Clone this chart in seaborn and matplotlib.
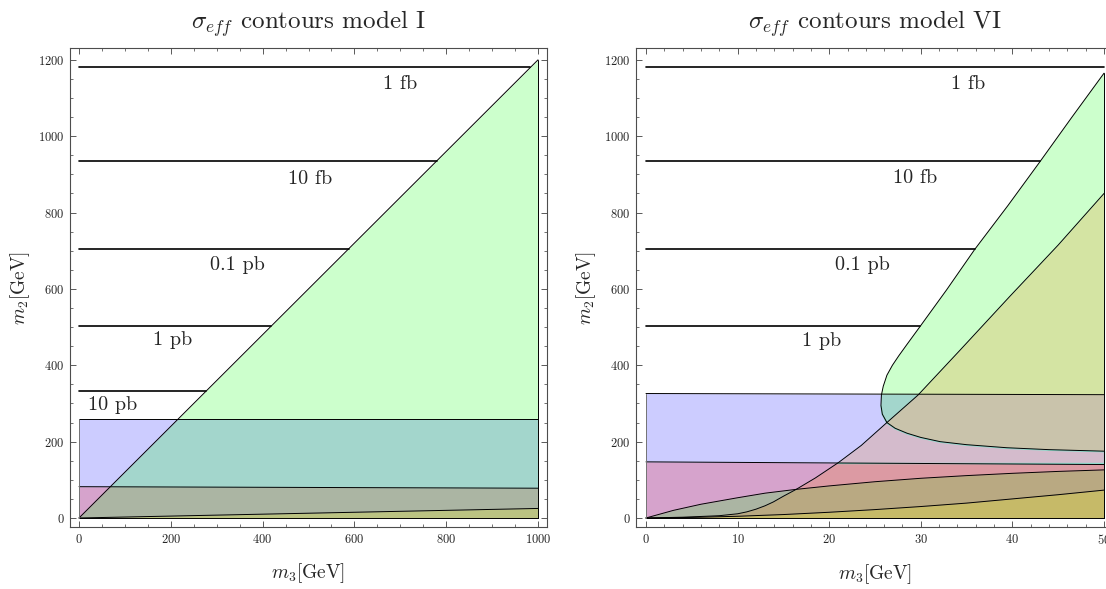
import numpy as np
import matplotlib.pyplot as plt
import seaborn as sns
from matplotlib.ticker import MultipleLocator

# ---- model I (m3 in GeV, m2 in GeV) ----
m3_I = [0, 1000]
blue_top_I = [260, 260]
red_top_I = [82, 78]
diag_I = [0, 1200]
yellow_top_I = [0, 25]

# ---- model VI ----
m3_VI = [0, 50]
blue_top_VI = [326, 323]
red_top_VI = [147, 140]
c_upper_m3 = [25.65, 25.7, 25.9, 26.3, 26.9, 27.6, 28.5, 29.9, 32.8, 35.9, 39.5, 43.0, 46.5, 50.0]
c_upper_m2 = [295, 322, 345, 374, 400, 425, 455, 501, 597, 704, 818, 933, 1050, 1165]
c_lower_m3 = [25.65, 25.8, 26.3, 27.2, 28.5, 30.0, 32.1, 35.0, 39.4, 44.0, 50.0]
c_lower_m2 = [295, 272, 250, 235, 222, 211, 200, 192, 184, 179, 175]
curve2_m3 = [0, 4, 8, 10, 11, 12, 13, 13.9, 15, 16.4, 18.5, 21, 23.5, 26.3, 29.7, 34.3, 39.7, 45, 50]
curve2_m2 = [0, 2, 6, 11, 16, 23, 32, 42, 57, 75, 105, 145, 190, 250, 322, 440, 580, 715, 850]
curve3_m3 = [0, 1.5, 3, 6, 10, 13, 16.4, 20, 25, 30, 35, 40, 45, 50]
curve3_m2 = [0, 10, 20, 36, 53, 65, 75, 84, 95, 104, 111, 117, 122, 126]
curve4_m3 = [0, 5, 10, 15, 20, 25, 30, 35, 40, 45, 50]
curve4_m2 = [0, 1.5, 4.5, 9, 15, 22, 30, 39, 50, 61, 73]
strip_bottom_VI = 143

# contour levels of sigma_eff
level_m2 = [1180, 935, 705, 503, 333]
level_names = ['1 fb', '10 fb', '0.1 pb', '1 pb', '10 pb']
label_m3_I = [699, 503, 346, 203, 74]
label_m2_I = [1137, 888, 663, 466, 296]
label_m3_VI = [35.2, 29.4, 23.6, 19.2]
label_m2_VI = [1137, 891, 663, 464]

BLUE = (0, 0, 1)
RED = (1, 0, 0)
GREEN = (0, 1, 0)
ORANGE = (0.96, 0.48, 0)
YELLOW = (1, 1, 0)
BEIGE = (1.0, 0.77, 0.75)
A = 0.2

sns.set_theme(style="ticks")
plt.rcParams['font.family'] = 'serif'
plt.rcParams['font.serif'] = ['cmr10']
plt.rcParams['mathtext.fontset'] = 'cm'
plt.rcParams['axes.formatter.use_mathtext'] = True

fig = plt.figure(figsize=(11.06, 5.89), dpi=100)
ax1 = fig.add_axes([70 / 1106, 62 / 589, 477 / 1106, 479 / 589])
ax2 = fig.add_axes([636 / 1106, 62 / 589, 478 / 1106, 479 / 589])


def bline(ax, x, y, lw=0.7, color='black'):
    sns.lineplot(x=x, y=y, ax=ax, color=color, lw=lw, sort=False, estimator=None)


# ---------- left panel ----------
ax = ax1
ax.fill_between(m3_I, blue_top_I, 0, color=BLUE, alpha=A, lw=0)
ax.fill_between(m3_I, red_top_I, 0, color=RED, alpha=A, lw=0)
ax.fill_between(m3_I, diag_I, 0, color=GREEN, alpha=A, lw=0)
ax.fill_between(m3_I, yellow_top_I, 0, color=YELLOW, alpha=A, lw=0)
bline(ax, m3_I, blue_top_I)
bline(ax, m3_I, red_top_I)
bline(ax, m3_I, diag_I)
bline(ax, m3_I, yellow_top_I)
bline(ax, m3_I, [0, 0])
bline(ax, [m3_I[1], m3_I[1]], [0, diag_I[1]])
bline(ax, [0, 0], [0, blue_top_I[0]], color='0.45')
for lev, name, lx, ly in zip(level_m2, level_names, label_m3_I, label_m2_I):
    x_end = np.interp(lev, diag_I, m3_I)
    bline(ax, [0, x_end], [lev, lev], lw=1.2)
    ax.text(lx, ly, name, ha='center', va='center', fontsize=14.5)
ax.set_xlim(-19.6, 1019.6)
ax.set_ylim(-23.6, 1231)
ax.xaxis.set_major_locator(MultipleLocator(200))
ax.xaxis.set_minor_locator(MultipleLocator(50))
ax.yaxis.set_major_locator(MultipleLocator(200))
ax.yaxis.set_minor_locator(MultipleLocator(50))
ax.set_title(r'$\sigma_{eff}$ contours model I', fontsize=18, pad=14)

# ---------- right panel ----------
ax = ax2
ax.fill_between(m3_VI, blue_top_VI, 0, color=BLUE, alpha=A, lw=0)
ax.fill_between(m3_VI, red_top_VI, 0, color=RED, alpha=A, lw=0)
cx = c_upper_m3[::-1] + c_lower_m3[1:]
cy = c_upper_m2[::-1] + c_lower_m2[1:]
ax.fill(cx, cy, color=GREEN, alpha=A, lw=0)
ax.fill_between(curve3_m3, curve3_m2, 0, color=GREEN, alpha=A, lw=0)
ax.fill_between(curve2_m3, curve2_m2, 0, color=ORANGE, alpha=A, lw=0)
ax.fill_between(curve4_m3, curve4_m2, 0, color=YELLOW, alpha=A, lw=0)

# overlap of the C region with the lower region inside the blue band
seg2 = [(x, y) for x, y in zip(curve2_m3, curve2_m2) if 250 <= y <= 322]
segc = [(x, y) for x, y in zip(c_lower_m3, c_lower_m2) if y <= 250][::-1]
poly = seg2 + [(50, blue_top_VI[1])] + segc
ax.fill([p[0] for p in poly], [p[1] for p in poly], color=BEIGE, alpha=0.3, lw=0)

x_strip = np.interp(strip_bottom_VI, curve2_m2, curve2_m3)
bline(ax, [x_strip, 50, 50], [strip_bottom_VI, strip_bottom_VI, c_lower_m2[-1]],
      lw=1.0, color='#8fdccd')
bline(ax, c_lower_m3, np.array(c_lower_m2) - 1.5, lw=1.0, color='#8fdccd')
bline(ax, m3_VI, blue_top_VI)
bline(ax, m3_VI, red_top_VI)
bline(ax, cx, cy)
bline(ax, curve2_m3, curve2_m2)
bline(ax, curve3_m3, curve3_m2)
bline(ax, curve4_m3, curve4_m2)
bline(ax, m3_VI, [0, 0])
bline(ax, [50, 50], [0, c_upper_m2[-1]])
bline(ax, [0, 0], [0, blue_top_VI[0]], color='0.45')
for lev, name, lx, ly in zip(level_m2[:4], level_names[:4], label_m3_VI, label_m2_VI):
    x_end = np.interp(lev, c_upper_m2, c_upper_m3)
    bline(ax, [0, x_end], [lev, lev], lw=1.2)
    ax.text(lx, ly, name, ha='center', va='center', fontsize=14.5)
ax.set_xlim(-1.09, 51.09)
ax.set_ylim(-23.6, 1231)
ax.xaxis.set_major_locator(MultipleLocator(10))
ax.xaxis.set_minor_locator(MultipleLocator(2))
ax.yaxis.set_major_locator(MultipleLocator(200))
ax.yaxis.set_minor_locator(MultipleLocator(50))
ax.set_title(r'$\sigma_{eff}$ contours model VI', fontsize=18, pad=14)

for ax in (ax1, ax2):
    ax.set_xlabel(r'$m_3$[GeV]', fontsize=14, labelpad=11)
    ax.set_ylabel(r'$m_2$[GeV]', fontsize=14, labelpad=4)
    ax.tick_params(which='both', direction='in', top=True, right=True,
                   color='0.35', labelsize=9, pad=4)
    ax.tick_params(which='major', length=4.5, width=0.7)
    ax.tick_params(which='minor', length=2.5, width=0.6)
    for s in ax.spines.values():
        s.set_color('0.3')
        s.set_linewidth(0.8)

fig.savefig('out.png', dpi=100)
